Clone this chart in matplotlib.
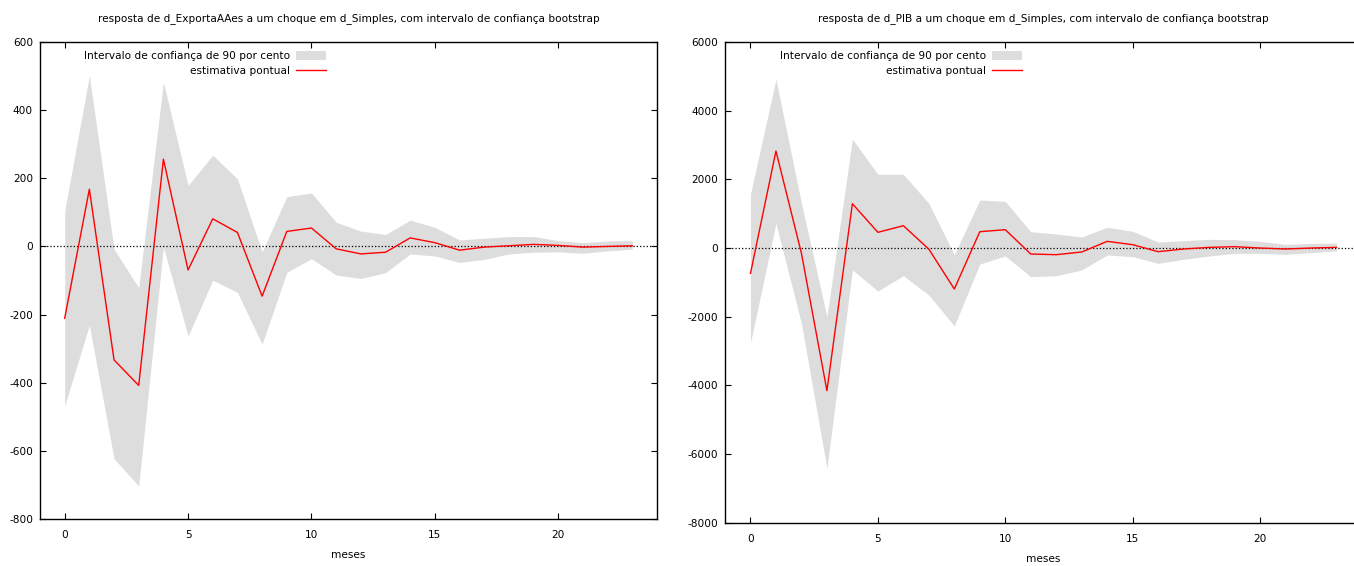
import numpy as np
import matplotlib
matplotlib.use("Agg")
import matplotlib.pyplot as plt

# horizonte em meses
meses = list(range(24))

# resposta de d_ExportaAAes
resp_exp = [-211, 168, -333, -408, 256, -69, 81, 41, -146, 44, 54, -7,
            -22, -17, 25, 11, -11, -2, 2, 6, 3, -2, 0, 2]
exp_sup = [104, 501, -8, -121, 482, 179, 268, 198, -16, 146, 157, 71,
           45, 35, 77, 56, 19, 24, 29, 29, 17, 11, 16, 17]
exp_inf = [-468, -231, -623, -703, -2, -263, -99, -135, -287, -76, -36, -84,
           -94, -77, -22, -28, -47, -38, -22, -17, -16, -20, -13, -8]

# resposta de d_PIB
resp_pib = [-738, 2825, -155, -4155, 1290, 457, 650, -33, -1194, 475, 534, -175,
            -194, -116, 194, 97, -107, -29, 19, 39, 0, -29, 0, 19]
pib_sup = [1572, 4912, 1300, -2000, 3174, 2146, 2146, 1301, -194, 1398, 1359, 475,
           408, 320, 602, 485, 175, 213, 252, 243, 194, 107, 136, 145]
pib_inf = [-2757, 718, -2200, -6416, -641, -1252, -806, -1369, -2271, -466, -233, -835,
           -806, -641, -204, -252, -447, -330, -233, -155, -155, -184, -136, -78]

titulos = ["resposta de d_ExportaAAes a um choque em d_Simples, com intervalo de confiança bootstrap",
           "resposta de d_PIB a um choque em d_Simples, com intervalo de confiança bootstrap"]
yticks_exp = [-800, -600, -400, -200, 0, 200, 400, 600]
yticks_pib = [-8000, -6000, -4000, -2000, 0, 2000, 4000, 6000]

plt.rcParams["axes.unicode_minus"] = False  # gnuplot-style hyphen minus

FS = 7.6
W, H = 1354, 566
fig = plt.figure(figsize=(W / 100, H / 100), dpi=100)

# axes boxes in pixels: left, right, top, bottom
boxes = [(40, 657, 42, 519), (725, 1362, 42, 522.7)]
series = [(resp_exp, exp_inf, exp_sup, yticks_exp, 0.4635),
          (resp_pib, pib_inf, pib_sup, yticks_pib, 0.466)]

for (l, r, t, b), (resp, inf, sup, yt, legx), titulo in zip(boxes, series, titulos):
    ax = fig.add_axes([l / W, (H - b) / H, (r - l) / W, (b - t) / H])
    ax.fill_between(meses, inf, sup, color="#dddddd", lw=0,
                    label="Intervalo de confiança de 90 por cento")
    ax.plot(meses, resp, color="red", lw=1.0, label="estimativa pontual")
    ax.axhline(0, color="black", ls=":", lw=0.9, zorder=1)

    ax.set_xlim(-1, 24)
    ax.set_ylim(yt[0], yt[-1])
    ax.set_xticks([0, 5, 10, 15, 20])
    ax.set_yticks(yt)
    ax.tick_params(direction="in", length=4, width=0.8, labelsize=FS,
                   top=True, right=True, color="black")
    ax.tick_params(axis="x", pad=8)
    ax.tick_params(axis="y", pad=5)
    for s in ax.spines.values():
        s.set_linewidth(1.0)

    ax.set_title(titulo, fontsize=FS, pad=15)
    ax.set_xlabel("meses", fontsize=FS, labelpad=7)

    ax.legend(loc="upper right", bbox_to_anchor=(legx, 0.981), frameon=False,
              markerfirst=False, fontsize=FS, borderaxespad=0, borderpad=0,
              handlelength=2.8, handleheight=0.85, handletextpad=0.6,
              labelspacing=0.5)

fig.savefig("out.png", dpi=100)
